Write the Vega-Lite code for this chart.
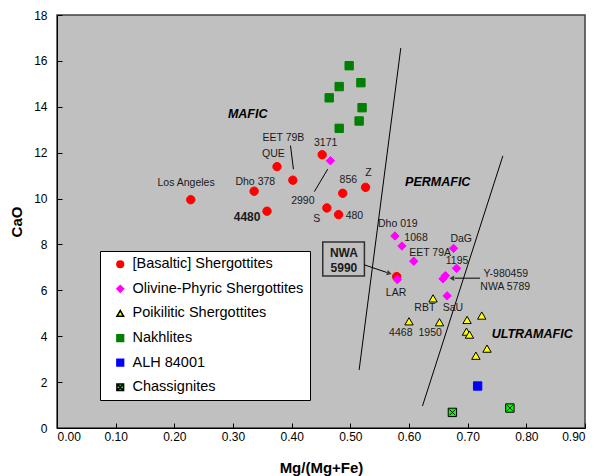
{
  "$schema": "https://vega.github.io/schema/vega-lite/v6.json",
  "autosize": "none",
  "width": 528,
  "height": 413,
  "padding": {"left": 57, "top": 15, "right": 13, "bottom": 48},
  "background": "#ffffff",
  "config": {
    "view": {"fill": "#c0c0c0", "stroke": "#404040", "strokeWidth": 1.5},
    "font": "Liberation Sans",
    "axis": {"grid": false, "domainColor": "#000000", "tickColor": "#000000", "labelColor": "#000000", "titleColor": "#000000", "labelFont": "Liberation Sans", "titleFont": "Liberation Sans", "labelFontSize": 12, "titleFontSize": 15, "titleFontWeight": "bold"},
    "legend": {"orient": "none", "legendX": 43, "legendY": 236, "fillColor": "#ffffff", "strokeColor": "#000000", "padding": 6, "symbolOffset": 7, "labelFontSize": 14.5, "labelFont": "Liberation Sans", "labelColor": "#000000", "rowPadding": 9.6, "labelOffset": 5, "symbolSize": 45, "labelLimit": 300}
  },
  "datasets": {
    "pts": [
      {"group": "[Basaltic] Shergottites", "x": 0.228, "y": 9.95},
      {"group": "[Basaltic] Shergottites", "x": 0.336, "y": 10.32},
      {"group": "[Basaltic] Shergottites", "x": 0.375, "y": 11.39},
      {"group": "[Basaltic] Shergottites", "x": 0.402, "y": 10.80},
      {"group": "[Basaltic] Shergottites", "x": 0.452, "y": 11.91},
      {"group": "[Basaltic] Shergottites", "x": 0.358, "y": 9.45},
      {"group": "[Basaltic] Shergottites", "x": 0.460, "y": 9.59},
      {"group": "[Basaltic] Shergottites", "x": 0.480, "y": 9.30},
      {"group": "[Basaltic] Shergottites", "x": 0.487, "y": 10.23},
      {"group": "[Basaltic] Shergottites", "x": 0.526, "y": 10.49},
      {"group": "[Basaltic] Shergottites", "x": 0.579, "y": 6.60},
      {"group": "Olivine-Phyric Shergottites", "x": 0.466, "y": 11.65},
      {"group": "Olivine-Phyric Shergottites", "x": 0.576, "y": 8.37},
      {"group": "Olivine-Phyric Shergottites", "x": 0.588, "y": 7.93},
      {"group": "Olivine-Phyric Shergottites", "x": 0.608, "y": 7.27},
      {"group": "Olivine-Phyric Shergottites", "x": 0.676, "y": 7.83},
      {"group": "Olivine-Phyric Shergottites", "x": 0.681, "y": 6.96},
      {"group": "Olivine-Phyric Shergottites", "x": 0.580, "y": 6.47},
      {"group": "Olivine-Phyric Shergottites", "x": 0.662, "y": 6.64},
      {"group": "Olivine-Phyric Shergottites", "x": 0.658, "y": 6.50},
      {"group": "Olivine-Phyric Shergottites", "x": 0.665, "y": 5.76},
      {"group": "Poikilitic Shergottites", "x": 0.641, "y": 5.65},
      {"group": "Poikilitic Shergottites", "x": 0.600, "y": 4.65},
      {"group": "Poikilitic Shergottites", "x": 0.652, "y": 4.61},
      {"group": "Poikilitic Shergottites", "x": 0.699, "y": 4.71},
      {"group": "Poikilitic Shergottites", "x": 0.724, "y": 4.90},
      {"group": "Poikilitic Shergottites", "x": 0.698, "y": 4.20},
      {"group": "Poikilitic Shergottites", "x": 0.703, "y": 4.07},
      {"group": "Poikilitic Shergottites", "x": 0.733, "y": 3.46},
      {"group": "Poikilitic Shergottites", "x": 0.714, "y": 3.15},
      {"group": "Nakhlites", "x": 0.498, "y": 15.79},
      {"group": "Nakhlites", "x": 0.518, "y": 15.05},
      {"group": "Nakhlites", "x": 0.481, "y": 14.88},
      {"group": "Nakhlites", "x": 0.464, "y": 14.39},
      {"group": "Nakhlites", "x": 0.520, "y": 13.96},
      {"group": "Nakhlites", "x": 0.515, "y": 13.38},
      {"group": "Nakhlites", "x": 0.481, "y": 13.06},
      {"group": "ALH 84001", "x": 0.717, "y": 1.83},
      {"group": "Chassignites", "x": 0.674, "y": 0.68},
      {"group": "Chassignites", "x": 0.772, "y": 0.87}
    ],
    "segs": [
      {"x": 0.586, "y": 16.56, "x2": 0.515, "y2": 2.53},
      {"x": 0.760, "y": 11.86, "x2": 0.623, "y2": 0.96},
      {"x": 0.398, "y": 12.31, "x2": 0.403, "y2": 11.28},
      {"x": 0.4386, "y": 10.30, "x2": 0.4614, "y2": 11.28},
      {"x": 0.524, "y": 7.11, "x2": 0.562, "y2": 6.78},
      {"x": 0.721, "y": 6.53, "x2": 0.678, "y2": 6.53}
    ],
    "labels": [
      {"t": "Los Angeles", "x": 0.220, "y": 10.67},
      {"t": "Dho 378", "x": 0.338, "y": 10.71},
      {"t": "QUE", "x": 0.369, "y": 11.94},
      {"t": "EET 79B", "x": 0.386, "y": 12.63},
      {"t": "3171", "x": 0.458, "y": 12.41},
      {"t": "2990", "x": 0.419, "y": 9.90},
      {"t": "856", "x": 0.4966, "y": 10.80},
      {"t": "Z", "x": 0.531, "y": 11.12},
      {"t": "S", "x": 0.4426, "y": 9.11},
      {"t": "480", "x": 0.507, "y": 9.23},
      {"t": "Dho 019", "x": 0.581, "y": 8.91},
      {"t": "1068", "x": 0.612, "y": 8.30},
      {"t": "EET 79A", "x": 0.636, "y": 7.61},
      {"t": "DaG", "x": 0.689, "y": 8.23},
      {"t": "1195", "x": 0.682, "y": 7.29},
      {"t": "LAR", "x": 0.578, "y": 5.90},
      {"t": "RBT", "x": 0.627, "y": 5.22},
      {"t": "SaU", "x": 0.675, "y": 5.22},
      {"t": "4468", "x": 0.586, "y": 4.13},
      {"t": "1950", "x": 0.636, "y": 4.13},
      {"t": "Y-980459", "x": 0.765, "y": 6.70},
      {"t": "NWA 5789", "x": 0.764, "y": 6.13}
    ],
    "bold": [
      {"t": "4480", "x": 0.324, "y": 9.21},
      {"t": "NWA", "x": 0.489, "y": 7.61},
      {"t": "5990", "x": 0.489, "y": 6.99}
    ],
    "regions": [
      {"t": "MAFIC", "x": 0.325, "y": 13.67},
      {"t": "PERMAFIC", "x": 0.649, "y": 10.70},
      {"t": "ULTRAMAFIC", "x": 0.810, "y": 4.08}
    ],
    "box": [{"x": 0.453, "x2": 0.524, "y": 8.11, "y2": 6.63}],
    "headR": [{"x": 0.5664, "y": 6.74}],
    "headL": [{"x": 0.673, "y": 6.53}]
  },
  "encoding": {
    "x": {"field": "x", "type": "quantitative", "scale": {"domain": [0, 0.9], "nice": false, "zero": false},
      "axis": {"title": "Mg/(Mg+Fe)", "values": [0, 0.1, 0.2, 0.3, 0.4, 0.5, 0.6, 0.7, 0.8, 0.9], "format": ".2f", "tickSize": -5, "labelPadding": 8, "titlePadding": 18}},
    "y": {"field": "y", "type": "quantitative", "scale": {"domain": [0, 18], "nice": false, "zero": false},
      "axis": {"title": "CaO", "values": [0, 2, 4, 6, 8, 10, 12, 14, 16, 18], "tickSize": -5, "labelPadding": 15, "titlePadding": 9}}
  },
  "layer": [
    {
      "data": {"name": "box"},
      "mark": {"type": "rect", "fill": null, "fillOpacity": 0, "stroke": "#303030", "strokeWidth": 1.5},
      "encoding": {"x2": {"field": "x2"}, "y2": {"field": "y2"}}
    },
    {
      "data": {"name": "segs"},
      "mark": {"type": "rule", "color": "#000000", "strokeWidth": 1},
      "encoding": {"x2": {"field": "x2"}, "y2": {"field": "y2"}}
    },
    {
      "data": {"name": "headR"},
      "mark": {"type": "point", "shape": "triangle-right", "angle": 18, "filled": true, "color": "#000000", "size": 30}
    },
    {
      "data": {"name": "headL"},
      "mark": {"type": "point", "shape": "triangle-left", "filled": true, "color": "#000000", "size": 30}
    },
    {
      "data": {"name": "pts"},
      "mark": {"type": "point", "filled": true, "size": 70, "strokeWidth": 1, "opacity": 1},
      "encoding": {
        "fill": {"field": "group", "type": "nominal", "title": null,
          "scale": {"domain": ["[Basaltic] Shergottites", "Olivine-Phyric Shergottites", "Poikilitic Shergottites", "Nakhlites", "ALH 84001", "Chassignites"],
            "range": ["#ff0000", "#ff00ff", "#ffff00", "#008000", "#0000ff", "#00ff00"]}},
        "stroke": {"field": "group", "type": "nominal", "title": null,
          "scale": {"domain": ["[Basaltic] Shergottites", "Olivine-Phyric Shergottites", "Poikilitic Shergottites", "Nakhlites", "ALH 84001", "Chassignites"],
            "range": ["#ff0000", "#ff00ff", "#000000", "#008000", "#0000ff", "#000000"]}},
        "shape": {"field": "group", "type": "nominal", "title": null,
          "scale": {"domain": ["[Basaltic] Shergottites", "Olivine-Phyric Shergottites", "Poikilitic Shergottites", "Nakhlites", "ALH 84001", "Chassignites"],
            "range": ["circle", "diamond", "triangle-up", "square", "square", "M-1,-1L1,-1L1,1L-1,1Z M-0.7,-0.7L0.7,0.7 M0.7,-0.7L-0.7,0.7"]}}
      }
    },
    {
      "data": {"name": "labels"},
      "mark": {"type": "text", "font": "Liberation Sans", "fontSize": 10.5, "color": "#1a1a1a", "align": "center", "baseline": "middle"},
      "encoding": {"text": {"field": "t"}}
    },
    {
      "data": {"name": "bold"},
      "mark": {"type": "text", "font": "Liberation Sans", "fontSize": 12, "fontWeight": "bold", "color": "#1a1a1a", "align": "center", "baseline": "middle"},
      "encoding": {"text": {"field": "t"}}
    },
    {
      "data": {"name": "regions"},
      "mark": {"type": "text", "font": "Liberation Sans", "fontSize": 12.5, "fontWeight": "bold", "fontStyle": "italic", "color": "#000000", "align": "center", "baseline": "middle"},
      "encoding": {"text": {"field": "t"}}
    }
  ]
}
